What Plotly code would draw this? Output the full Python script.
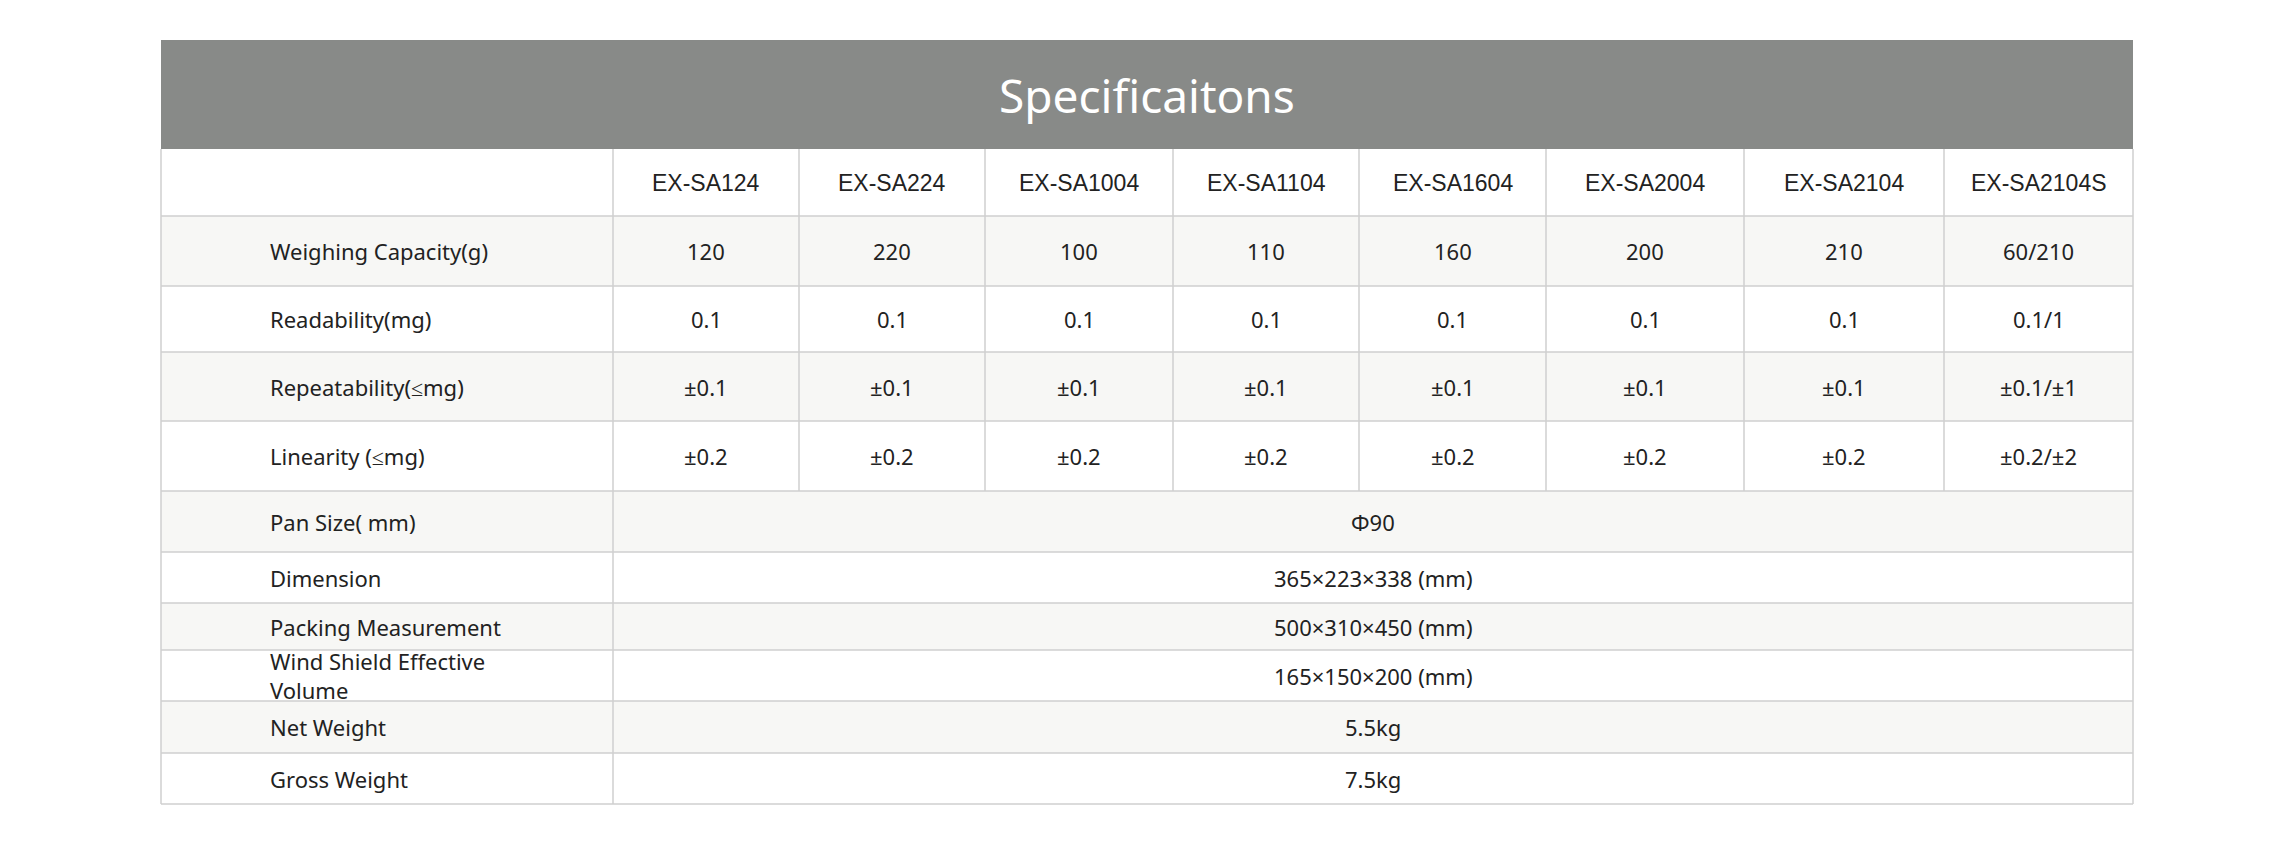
import plotly.graph_objects as go

title = "Specificaitons"
models = ["EX-SA124", "EX-SA224", "EX-SA1004", "EX-SA1104", "EX-SA1604", "EX-SA2004", "EX-SA2104", "EX-SA2104S"]
per_model_labels = ["Weighing Capacity(g)", "Readability(mg)", "Repeatability(≤mg)", "Linearity (≤mg)"]
weighing_capacity = ["120", "220", "100", "110", "160", "200", "210", "60/210"]
readability = ["0.1", "0.1", "0.1", "0.1", "0.1", "0.1", "0.1", "0.1/1"]
repeatability = ["±0.1"] * 7 + ["±0.1/±1"]
linearity = ["±0.2"] * 7 + ["±0.2/±2"]
common_labels = ["Pan Size( mm)", "Dimension", "Packing Measurement", "Wind Shield Effective<br>Volume", "Net Weight", "Gross Weight"]
common_values = ["Φ90", "365×223×338 (mm)", "500×310×450 (mm)", "165×150×200 (mm)", "5.5kg", "7.5kg"]

W, H = 2296, 841
DX, DY = -8, -8
L, R = 161 + DX, 2133 + DX
col_x = [c + DX for c in [161, 613, 799, 985, 1173, 1359, 1546, 1744, 1944, 2133]]
head_top, head_bot = 40 + DY, 149 + DY
row_y = [y + DY for y in [149, 216, 286, 352, 421, 491, 552, 603, 650, 701, 753, 804]]
grid = "#cfcfcf"
stripe = "#f7f7f5"
txt = "#222222"
body_font = "Noto Sans"
LABEL_X = 268 + DX

fig = go.Figure()
shapes, anns = [], []
shapes.append(dict(type="rect", x0=L, x1=R, y0=head_top, y1=head_bot, fillcolor="#888a88", line_width=0, layer="below"))
anns.append(dict(x=(L + R) / 2, y=(head_top + head_bot) / 2, text=title, showarrow=False,
                 font=dict(family=body_font, size=46, color="white")))

nrows = len(row_y) - 1
for i in range(nrows):
    y0, y1 = row_y[i], row_y[i + 1]
    if i % 2 == 1:
        shapes.append(dict(type="rect", x0=L, x1=R, y0=y0, y1=y1, fillcolor=stripe, line_width=0, layer="below"))
    shapes.append(dict(type="line", x0=L, x1=R, y0=y1, y1=y1, line=dict(color=grid, width=1.5)))
shapes.append(dict(type="line", x0=L, x1=L, y0=head_bot, y1=row_y[-1], line=dict(color=grid, width=1.5)))
shapes.append(dict(type="line", x0=R, x1=R, y0=head_bot, y1=row_y[-1], line=dict(color=grid, width=1.5)))
shapes.append(dict(type="line", x0=col_x[1], x1=col_x[1], y0=head_bot, y1=row_y[-1], line=dict(color=grid, width=1.5)))
for cx in col_x[2:-1]:
    shapes.append(dict(type="line", x0=cx, x1=cx, y0=head_bot, y1=row_y[5], line=dict(color=grid, width=1.5)))

def cy(i):
    return (row_y[i] + row_y[i + 1]) / 2

for j, m in enumerate(models):
    anns.append(dict(x=(col_x[j + 1] + col_x[j + 2]) / 2, y=cy(0), text=m, showarrow=False,
                     font=dict(family="Liberation Sans", size=23, color=txt)))
per_vals = [weighing_capacity, readability, repeatability, linearity]
for r, (lab, vals) in enumerate(zip(per_model_labels, per_vals)):
    anns.append(dict(x=LABEL_X, y=cy(r + 1), text=lab, showarrow=False, xanchor="left",
                     font=dict(family=body_font, size=22, color=txt)))
    for j, v in enumerate(vals):
        anns.append(dict(x=(col_x[j + 1] + col_x[j + 2]) / 2, y=cy(r + 1), text=v, showarrow=False,
                         font=dict(family=body_font, size=22, color=txt)))
for r, (lab, v) in enumerate(zip(common_labels, common_values)):
    anns.append(dict(x=LABEL_X, y=cy(r + 5), text=lab, showarrow=False, xanchor="left", align="left",
                     font=dict(family=body_font, size=22, color=txt)))
    anns.append(dict(x=(col_x[1] + R) / 2, y=cy(r + 5), text=v, showarrow=False,
                     font=dict(family=body_font, size=22, color=txt)))

fig.update_layout(width=W, height=H, margin=dict(l=0, r=0, t=0, b=0), paper_bgcolor="white", plot_bgcolor="white",
                  xaxis=dict(range=[0, W], visible=False, fixedrange=True),
                  yaxis=dict(range=[H, 0], visible=False, fixedrange=True),
                  shapes=shapes, annotations=anns, showlegend=False)
fig.write_html("out.html", config={"displayModeBar": False})
